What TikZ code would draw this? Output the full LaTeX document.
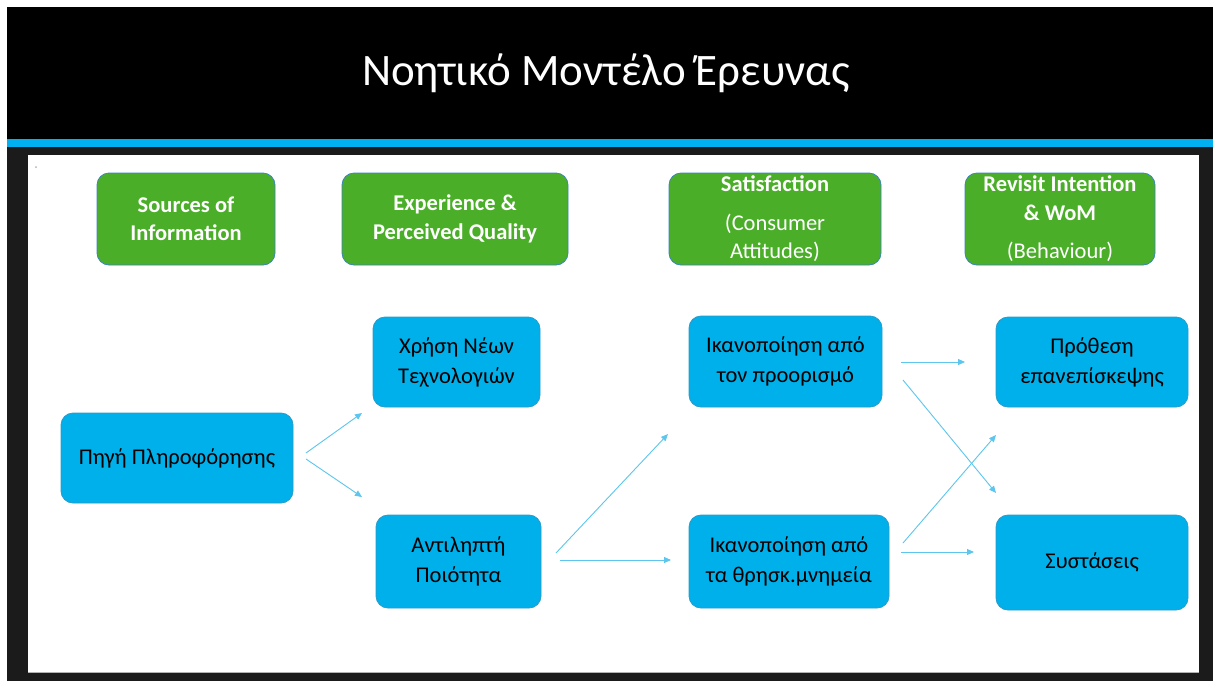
\documentclass[tikz,border=0pt]{standalone}
\usepackage{fontspec}
\setmainfont{Carlito}
\usetikzlibrary{arrows.meta}
\definecolor{accent}{HTML}{00B0F0}
\definecolor{frame}{HTML}{1B1B1B}
\definecolor{greenbox}{HTML}{4BAE29}
\definecolor{greenedge}{HTML}{3A86B8}
\definecolor{bluebox}{HTML}{00B0EA}
\definecolor{blueedge}{HTML}{2A9CCB}
\definecolor{arrowc}{HTML}{5CC6EE}
\begin{document}
\begin{tikzpicture}[x=1pt,y=-1pt,
  headbox/.style={draw=greenedge, line width=0.8pt, fill=greenbox, rounded corners=12pt,
    text=white, font=\fontsize{22.5}{28.5}\selectfont\bfseries, align=center, inner sep=0pt},
  varbox/.style={draw=blueedge, line width=0.8pt, fill=bluebox, rounded corners=12pt,
    text=black, font=\fontsize{22.5}{30}\selectfont, align=center, inner sep=0pt},
  link/.style={draw=arrowc, line width=0.9pt, -{Triangle[length=7pt,width=6pt]}}]
\useasboundingbox (0,0) rectangle (1213,681);
% background
\fill[white] (0,0) rectangle (1213,681);
\fill[frame] (7,7) rectangle (1213,681);
\fill[black] (7,7) rectangle (1213,139);
\fill[accent] (7,139) rectangle (1213,147);
\fill[white] (28,155) rectangle (1199,672);
\draw[gray!60, line width=1pt] (28,672) -- (1199,672);
\fill[gray!60] (36,167) circle (1pt);
% title
\node[text=white, font=\fontsize{45}{50}\selectfont] (title) at (606,73) {Νοητικό Μοντέλο Έρευνας};
% header boxes
\node[headbox, minimum width=178pt, minimum height=92pt] (h1) at (186,219) {Sources of\\Information};
\node[headbox, minimum width=226pt, minimum height=92pt] (h2) at (455,219) {Experience \&\\Perceived Quality};
\node[headbox, minimum width=212pt, minimum height=92pt] (h3) at (775,219) {Satisfaction\\[10pt]\mdseries(Consumer\\\mdseries Attitudes)};
\node[headbox, minimum width=190pt, minimum height=92pt] (h4) at (1060,219) {Revisit Intention\\\& WoM\\[10pt]\mdseries(Behaviour)};
% variable boxes
\node[varbox, minimum width=167pt, minimum height=90pt] (xrisi) at (456.5,362) {Χρήση Νέων\\Τεχνολογιών};
\node[varbox, minimum width=232pt, minimum height=90pt] (pigi) at (177,458) {Πηγή Πληροφόρησης};
\node[varbox, minimum width=165pt, minimum height=93pt] (antil) at (458.5,561.5) {Αντιληπτή\\Ποιότητα};
\node[varbox, minimum width=193pt, minimum height=91pt] (ikproor) at (785.5,361.5) {Ικανοποίηση από\\τον προορισμό};
\node[varbox, minimum width=200pt, minimum height=93pt] (ikmnim) at (789,561.5) {Ικανοποίηση από\\τα θρησκ.μνημεία};
\node[varbox, minimum width=192pt, minimum height=90pt] (prothesi) at (1092,362) {Πρόθεση\\επανεπίσκεψης};
\node[varbox, minimum width=192pt, minimum height=95pt] (systaseis) at (1092,562.5) {Συστάσεις};
% arrow end points
\coordinate (a1s) at (306,453); \coordinate (a1e) at (362,413);
\coordinate (a2s) at (306,459); \coordinate (a2e) at (362,497);
\coordinate (a3s) at (556,553); \coordinate (a3e) at (668,434);
\coordinate (a4s) at (560,560); \coordinate (a4e) at (671,560);
\coordinate (a5s) at (901,362); \coordinate (a5e) at (965,362);
\coordinate (a6s) at (903,380); \coordinate (a6e) at (996,493);
\coordinate (a7s) at (903,543); \coordinate (a7e) at (996,435);
\coordinate (a8s) at (901,552); \coordinate (a8e) at (974,552);
\draw[link] (a1s) -- (a1e);
\draw[link] (a2s) -- (a2e);
\draw[link] (a3s) -- (a3e);
\draw[link] (a4s) -- (a4e);
\draw[link] (a5s) -- (a5e);
\draw[link] (a6s) -- (a6e);
\draw[link] (a7s) -- (a7e);
\draw[link] (a8s) -- (a8e);
\end{tikzpicture}
\end{document}
